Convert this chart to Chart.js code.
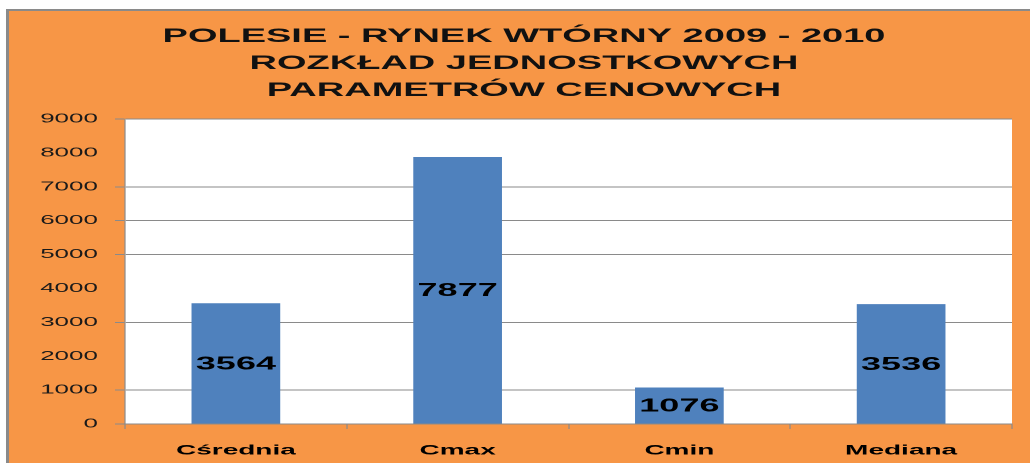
<!DOCTYPE html>
<html>
<head>
<meta charset="utf-8">
<script src="https://cdn.jsdelivr.net/npm/chart.js@4.4.0/dist/chart.umd.min.js"></script>
<style>
  html, body { margin: 0; padding: 0; background: #fff; width: 1030px; height: 463px; overflow: hidden; position: relative; }
  #frame { position: absolute; left: 6px; top: 9px; right: 0; bottom: 0; background: #F79646;
           border-left: 3px solid #8a8a8a; border-top: 2px solid #8a8a8a; }
  /* the chart is laid out on a half-width canvas and widened 2x horizontally */
  #chart { position: absolute; left: 0; top: 0; transform-origin: 0 0; transform: scaleX(2); }
</style>
</head>
<body>
<div id="frame"></div>
<canvas id="chart" width="515" height="463"></canvas>
<script>
// Data
const categories = ['Cśrednia', 'Cmax', 'Cmin', 'Mediana'];
const values = [3564, 7877, 1076, 3536];
const titleLines = ['POLESIE - RYNEK WTÓRNY 2009 - 2010', 'ROZKŁAD JEDNOSTKOWYCH', 'PARAMETRÓW CENOWYCH'];
const yMin = 0;
const yMax = 9000;
const yStep = 1000;
const unlinedValues = [2000, 4000, 8000];

const FONT = '"Liberation Sans", Arial, sans-serif';
const GRID = '#8a8a8a';
const BAR = '#4F81BD';

// white plot area behind the bars
const plotBackground = {
  id: 'plotBackground',
  beforeDraw(chart) {
    const { ctx, chartArea: a } = chart;
    ctx.save();
    ctx.fillStyle = '#ffffff';
    ctx.fillRect(a.left, a.top, a.right - a.left, a.bottom - a.top);
    ctx.restore();
  }
};

// value printed in the middle of every bar
const barValues = {
  id: 'barValues',
  afterDatasetsDraw(chart) {
    const { ctx } = chart;
    const meta = chart.getDatasetMeta(0);
    ctx.save();
    ctx.font = 'bold 18px ' + FONT;
    ctx.fillStyle = '#000';
    ctx.textAlign = 'center';
    ctx.textBaseline = 'middle';
    meta.data.forEach((bar, i) => {
      const v = chart.data.datasets[0].data[i];
      ctx.fillText(String(v), bar.x, (bar.y + bar.base) / 2 + 1);
    });
    ctx.restore();
  }
};

// three-line heading above the plot
const heading = {
  id: 'heading',
  afterDraw(chart) {
    const { ctx } = chart;
    ctx.save();
    ctx.font = 'bold 19px ' + FONT;
    ctx.fillStyle = '#111';
    ctx.textAlign = 'center';
    ctx.textBaseline = 'alphabetic';
    const baselines = [42, 69, 96];
    titleLines.forEach((t, i) => ctx.fillText(t, 262, baselines[i]));
    ctx.restore();
  }
};

// no grid line or tick mark for some of the levels
const lineColor = c => {
  const v = (c.tick && typeof c.tick.value === 'number') ? c.tick.value : c.index * yStep;
  return unlinedValues.includes(v) ? 'rgba(0,0,0,0)' : GRID;
};

new Chart(document.getElementById('chart'), {
  type: 'bar',
  data: {
    labels: categories,
    datasets: [{
      data: values,
      backgroundColor: BAR,
      borderWidth: 0,
      barPercentage: 0.4,
      categoryPercentage: 1
    }]
  },
  options: {
    responsive: false,
    devicePixelRatio: 2,
    animation: false,
    layout: { padding: { left: 0, right: 9, top: 119, bottom: 0 } },
    plugins: {
      legend: { display: false },
      title: { display: false },
      tooltip: { enabled: false }
    },
    scales: {
      x: {
        grid: { offset: true, drawOnChartArea: false, drawTicks: true, tickLength: 5, color: GRID, lineWidth: 0.6 },
        border: { display: true, color: GRID, width: 1 },
        ticks: { padding: 13, color: '#000', font: { family: FONT, size: 14, weight: 'bold' } },
        afterFit(s) { s.height = 39; }
      },
      y: {
        min: yMin,
        max: yMax,
        ticks: {
          stepSize: yStep,
          padding: 8.5,
          color: '#1a1a1a',
          font: { family: FONT, size: 13 },
          callback: v => String(v)
        },
        grid: { color: lineColor, tickColor: lineColor, lineWidth: 1, tickLength: 5 },
        border: { display: true, color: GRID, width: 0.6 },
        afterFit(s) { s.width = 62.5; }
      }
    }
  },
  plugins: [plotBackground, barValues, heading]
});
</script>
</body>
</html>
